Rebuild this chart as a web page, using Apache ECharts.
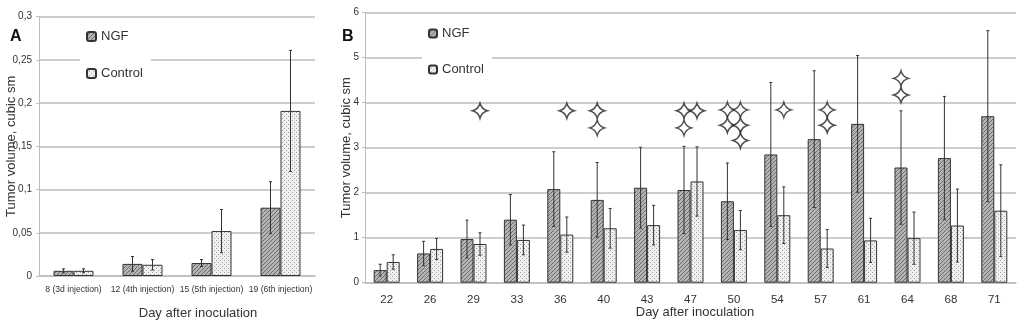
<!DOCTYPE html>
<html>
<head>
<meta charset="utf-8">
<script src="https://cdn.jsdelivr.net/npm/echarts@6/dist/echarts.min.js"></script>
<style>
html,body{margin:0;padding:0;background:#fff;}
#chart{width:1024px;height:325px;}
</style>
</head>
<body>
<div id="chart"></div>
<script>
// ---- Panel A data ----
var catsA = ['8 (3d injection)', '12 (4th injection)', '15 (5th injection)', '19 (6th injection)'];
var ngfA = [0.006, 0.014, 0.015, 0.079];
var ngfErrA = [0.0023, 0.0085, 0.004, 0.030];
var ctrlA = [0.006, 0.013, 0.052, 0.191];
var ctrlErrA = [0.0023, 0.006, 0.025, 0.070];

// ---- Panel B data ----
var catsB = ['22', '26', '29', '33', '36', '40', '43', '47', '50', '54', '57', '61', '64', '68', '71'];
var ngfB = [0.28, 0.65, 0.97, 1.40, 2.08, 1.84, 2.11, 2.06, 1.81, 2.85, 3.19, 3.53, 2.56, 2.77, 3.70];
var ngfErrB = [0.13, 0.27, 0.42, 0.56, 0.83, 0.83, 0.90, 0.97, 0.85, 1.60, 1.52, 1.52, 1.26, 1.37, 1.90];
var ctrlB = [0.46, 0.75, 0.86, 0.95, 1.07, 1.21, 1.28, 2.25, 1.17, 1.50, 0.76, 0.94, 0.99, 1.27, 1.60];
var ctrlErrB = [0.16, 0.235, 0.25, 0.33, 0.39, 0.44, 0.44, 0.77, 0.435, 0.63, 0.42, 0.49, 0.58, 0.81, 1.02];

// significance markers (category index, height) above NGF column / Control column
var starsNgfB = [[5, 3.82], [5, 3.44], [7, 3.82], [7, 3.44], [8, 3.84], [8, 3.50], [12, 4.54], [12, 4.17]];
var starsCtrlB = [[2, 3.82], [4, 3.82], [7, 3.82], [8, 3.84], [8, 3.50], [8, 3.16], [9, 3.84], [10, 3.84], [10, 3.50]];

// ---- patterns ----
function hatchPattern() {
  var c = document.createElement('canvas');
  c.width = 4; c.height = 4;
  var g = c.getContext('2d');
  g.fillStyle = '#b4b4b4';
  g.fillRect(0, 0, 4, 4);
  g.fillStyle = '#6e6e6e';
  for (var i = 0; i < 4; i++) { g.fillRect(i, 3 - i, 1, 1); }
  return {image: c, repeat: 'repeat'};
}
function dotPattern() {
  var c = document.createElement('canvas');
  c.width = 4; c.height = 4;
  var g = c.getContext('2d');
  g.fillStyle = '#f0f0f0';
  g.fillRect(0, 0, 4, 4);
  g.fillStyle = '#a0a0a0';
  g.fillRect(0, 0, 1, 1);
  g.fillRect(2, 2, 1, 1);
  return {image: c, repeat: 'repeat'};
}
var hatch = hatchPattern();
var dots = dotPattern();

var FONT = "'Liberation Sans', Arial, sans-serif";
var TXT = '#333';
var GRID = '#bdbdbd';

function errData(vals, errs) {
  return vals.map(function (v, i) { return [i, v, errs[i]]; });
}
function errSeries(xi, yi, vals, errs, offset) {
  return {
    type: 'custom',
    xAxisIndex: xi, yAxisIndex: yi,
    data: errData(vals, errs),
    z: 5,
    silent: true,
    renderItem: function (params, api) {
      var idx = api.value(0), v = api.value(1), e = api.value(2);
      var top = api.coord([idx, v + e]);
      var bot = api.coord([idx, v - e]);
      var x = top[0] + offset;
      var cap = 1.5;
      var st = {stroke: '#333', lineWidth: 1};
      return {
        type: 'group',
        children: [
          {type: 'line', shape: {x1: x, y1: top[1], x2: x, y2: bot[1]}, style: st},
          {type: 'line', shape: {x1: x - cap, y1: top[1], x2: x + cap, y2: top[1]}, style: st},
          {type: 'line', shape: {x1: x - cap, y1: bot[1], x2: x + cap, y2: bot[1]}, style: st}
        ]
      };
    }
  };
}

var starPath = 'path://M0,-10 Q2.1,-2.1 10,0 Q2.1,2.1 0,10 Q-2.1,2.1 -10,0 Q-2.1,-2.1 0,-10 Z';

var bwA = 20, bwB = 13;

var option = {
  animation: false,
  backgroundColor: '#fff',
  textStyle: {fontFamily: FONT, color: TXT},
  grid: [
    {left: 39, top: 16.7, width: 276, height: 262.6},
    {left: 365, top: 12.7, width: 651, height: 270}
  ],
  legend: [
    {
      data: ['NGF', 'Control'], orient: 'vertical', left: 80, top: 24,
      itemWidth: 9, itemHeight: 9, itemGap: 24, padding: [6, 8, 6, 6],
      backgroundColor: '#fff', selectedMode: false,
      textStyle: {fontSize: 13, color: TXT, fontFamily: FONT}
    },
    {
      data: ['NGF', 'Control'], orient: 'vertical', left: 422, top: 21,
      itemWidth: 8, itemHeight: 8, itemGap: 23, padding: [6, 8, 6, 6],
      backgroundColor: '#fff', selectedMode: false,
      textStyle: {fontSize: 13, color: TXT, fontFamily: FONT}
    }
  ],
  graphic: [
    {type: 'text', left: 10, top: 29, style: {text: 'A', font: 'bold 16px ' + FONT, fill: '#111'}},
    {type: 'text', left: 342, top: 29, style: {text: 'B', font: 'bold 16px ' + FONT, fill: '#111'}}
  ],
  xAxis: [
    {
      type: 'category', gridIndex: 0, data: catsA,
      axisLine: {lineStyle: {color: GRID, width: 1.5}},
      axisTick: {length: 4, lineStyle: {color: GRID}},
      axisLabel: {interval: 0, fontSize: 8.6, color: TXT, margin: 9},
      name: 'Day after inoculation', nameLocation: 'middle', nameGap: 31, nameMoveOverlap: false,
      nameTextStyle: {fontSize: 13, color: TXT, padding: [0, 0, 0, 42]}
    },
    {
      type: 'category', gridIndex: 1, data: catsB,
      axisLine: {lineStyle: {color: GRID, width: 1.5}},
      axisTick: {length: 4, lineStyle: {color: GRID}},
      axisLabel: {interval: 0, fontSize: 11.5, color: TXT, margin: 11},
      name: 'Day after inoculation', nameLocation: 'middle', nameGap: 23, nameMoveOverlap: false,
      nameTextStyle: {fontSize: 13, color: TXT, padding: [0, 0, 0, 9]}
    }
  ],
  yAxis: [
    {
      type: 'value', gridIndex: 0, min: 0, max: 0.3, interval: 0.05,
      axisLine: {show: true, lineStyle: {color: GRID, width: 1}},
      axisTick: {show: true, length: 3, lineStyle: {color: GRID}},
      splitLine: {lineStyle: {color: GRID, width: 1.5}},
      axisLabel: {fontSize: 10, color: TXT, margin: 7,
        formatter: function (v) { return String(+v.toFixed(2)).replace('.', ','); }},
      name: 'Tumor volume, cubic sm', nameLocation: 'middle', nameGap: 21, nameMoveOverlap: false,
      nameTextStyle: {fontSize: 13, color: TXT}
    },
    {
      type: 'value', gridIndex: 1, min: 0, max: 6, interval: 1,
      axisLine: {show: true, lineStyle: {color: GRID, width: 1}},
      axisTick: {show: true, length: 3, lineStyle: {color: GRID}},
      splitLine: {lineStyle: {color: GRID, width: 1.5}},
      axisLabel: {fontSize: 10, color: TXT, margin: 6},
      name: 'Tumor volume, cubic sm', nameLocation: 'middle', nameGap: 12, nameMoveOverlap: false,
      nameTextStyle: {fontSize: 13, color: TXT}
    }
  ],
  series: [
    {
      name: 'NGF', type: 'bar', xAxisIndex: 0, yAxisIndex: 0, data: ngfA,
      barWidth: bwA, barGap: '0%',
      itemStyle: {color: hatch, borderColor: '#333', borderWidth: 1}
    },
    {
      name: 'Control', type: 'bar', xAxisIndex: 0, yAxisIndex: 0, data: ctrlA,
      barWidth: bwA, barGap: '0%',
      itemStyle: {color: dots, borderColor: '#333', borderWidth: 1}
    },
    {
      name: 'NGF', type: 'bar', xAxisIndex: 1, yAxisIndex: 1, data: ngfB,
      barWidth: bwB, barGap: '0%',
      itemStyle: {color: hatch, borderColor: '#333', borderWidth: 1}
    },
    {
      name: 'Control', type: 'bar', xAxisIndex: 1, yAxisIndex: 1, data: ctrlB,
      barWidth: bwB, barGap: '0%',
      itemStyle: {color: dots, borderColor: '#333', borderWidth: 1}
    },
    errSeries(0, 0, ngfA, ngfErrA, -bwA / 2),
    errSeries(0, 0, ctrlA, ctrlErrA, bwA / 2),
    errSeries(1, 1, ngfB, ngfErrB, -bwB / 2),
    errSeries(1, 1, ctrlB, ctrlErrB, bwB / 2),
    {
      type: 'scatter', xAxisIndex: 1, yAxisIndex: 1, data: starsNgfB,
      symbol: starPath, symbolSize: 15, symbolOffset: [-bwB / 2, 0], z: 6, silent: true,
      itemStyle: {color: '#fff', borderColor: '#222', borderWidth: 1.5}
    },
    {
      type: 'scatter', xAxisIndex: 1, yAxisIndex: 1, data: starsCtrlB,
      symbol: starPath, symbolSize: 15, symbolOffset: [bwB / 2, 0], z: 6, silent: true,
      itemStyle: {color: '#fff', borderColor: '#222', borderWidth: 1.5}
    }
  ]
};

var chart = echarts.init(document.getElementById('chart'), null, {renderer: 'canvas'});
chart.setOption(option);
</script>
</body>
</html>
